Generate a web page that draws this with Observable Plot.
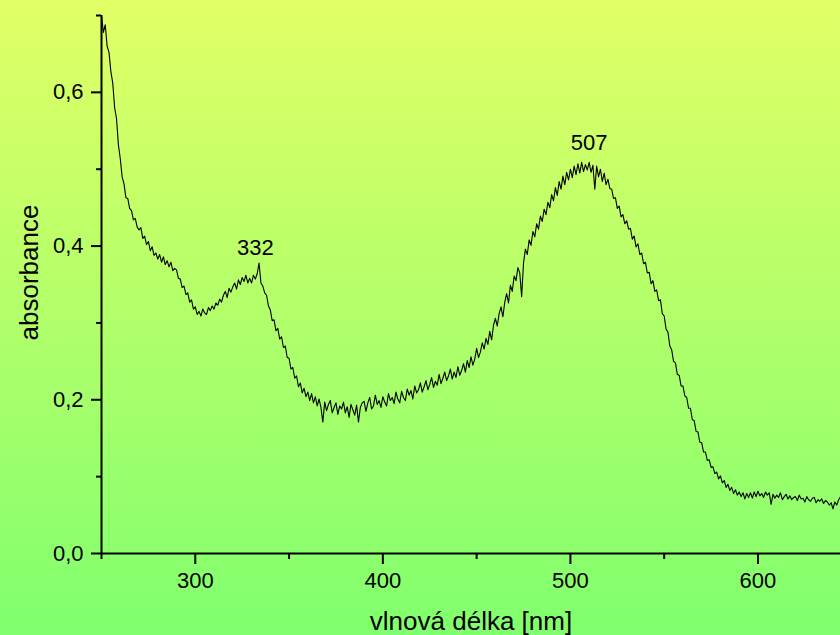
<!DOCTYPE html>
<html>
<head>
<meta charset="utf-8">
<script src="https://cdn.jsdelivr.net/npm/d3@7"></script>
<script src="https://cdn.jsdelivr.net/npm/@observablehq/plot@0.6"></script>
<style>
  html, body { margin: 0; padding: 0; }
  body { width: 840px; height: 635px; overflow: hidden;
         background: linear-gradient(to bottom, #e2ff66, #80ff6e); }
  svg { display: block; }
</style>
</head>
<body>
<div id="chart"></div>
<script>
// wavelength start (nm) and step (nm) of the spectrum samples
const startNm = 250;
const stepNm = 1;
// absorbance values, one row per 10 nm (250–259, 260–269, ...)
const absorbance = [
  .700,.678,.688,.660,.652,.627,.612,.580,.566,.532,
  .514,.490,.481,.463,.462,.449,.446,.434,.436,.425,
  .421,.424,.410,.413,.402,.406,.394,.399,.388,.391,
  .383,.389,.379,.386,.376,.381,.373,.379,.368,.371,
  .369,.358,.357,.346,.348,.337,.339,.327,.330,.318,
  .321,.311,.315,.309,.318,.313,.311,.320,.316,.322,
  .318,.326,.323,.331,.327,.336,.341,.333,.345,.340,
  .347,.352,.344,.356,.350,.359,.354,.362,.352,.358,
  .352,.362,.357,.364,.378,.352,.348,.339,.336,.322,
  .317,.303,.304,.290,.293,.279,.282,.268,.270,.255,
  .254,.240,.242,.228,.231,.217,.222,.209,.215,.204,
  .210,.199,.208,.196,.204,.192,.201,.190,.171,.197,
  .186,.194,.199,.183,.190,.196,.181,.192,.188,.197,
  .183,.191,.177,.194,.187,.180,.193,.171,.190,.196,
  .198,.185,.196,.203,.188,.192,.206,.194,.199,.190,
  .204,.197,.192,.208,.199,.203,.195,.210,.201,.196,
  .211,.203,.199,.214,.206,.212,.201,.218,.209,.213,
  .222,.210,.217,.225,.213,.220,.229,.216,.224,.219,
  .233,.221,.228,.236,.225,.231,.240,.227,.236,.229,
  .243,.232,.238,.247,.236,.251,.242,.256,.245,.253,
  .267,.255,.262,.274,.266,.280,.272,.289,.278,.297,
  .306,.296,.312,.321,.308,.327,.338,.326,.349,.341,
  .361,.355,.372,.365,.334,.378,.396,.389,.408,.401,
  .419,.412,.429,.422,.439,.432,.448,.441,.457,.450,
  .467,.459,.476,.466,.484,.474,.491,.480,.496,.486,
  .500,.489,.504,.493,.507,.495,.509,.497,.506,.499,
  .509,.496,.505,.474,.504,.490,.500,.484,.495,.480,
  .487,.475,.474,.462,.463,.449,.452,.438,.441,.429,
  .433,.422,.423,.409,.413,.399,.403,.389,.391,.377,
  .379,.365,.366,.351,.355,.341,.343,.329,.330,.312,
  .309,.292,.288,.270,.265,.250,.248,.233,.232,.218,
  .218,.205,.203,.189,.189,.174,.173,.159,.158,.145,
  .144,.132,.132,.121,.122,.112,.113,.104,.106,.097,
  .101,.092,.095,.086,.090,.082,.086,.078,.083,.076,
  .080,.074,.079,.071,.078,.073,.079,.072,.080,.074,
  .081,.075,.078,.073,.080,.076,.079,.064,.077,.072,
  .076,.073,.079,.070,.074,.077,.071,.075,.070,.073,
  .074,.069,.076,.071,.072,.067,.074,.070,.068,.072,
  .073,.066,.070,.068,.071,.065,.069,.067,.063,.066,
  .058,.067,.063,.070,.074
];
// peak annotations
const peakLabels = ["332", "507"];
const peakX = [332, 510];
const peakY = [0.388, 0.525];
// axis ticks
const xMajorTicks = [300, 400, 500, 600];
const xMinorTicks = [250, 350, 450, 550];
const yMajorTicks = [0, 0.2, 0.4, 0.6];
const yMinorTicks = [0.1, 0.3, 0.5, 0.7];
const xDomain = [250, 644];
const yDomain = [0, 0.7];
const xTitle = "vlnová délka [nm]";
const yTitle = "absorbance";

const spectrum = absorbance.map((a, i) => ({nm: startNm + i * stepNm, a}));
const peaks = peakLabels.map((t, i) => ({t, x: peakX[i], y: peakY[i]}));
const comma = d => d.toFixed(1).replace(".", ",");

const font = "'Liberation Sans', Arial, sans-serif";
const chart = Plot.plot({
  width: 840,
  height: 635,
  marginLeft: 101,
  marginRight: 0,
  marginTop: 15,
  marginBottom: 82,
  style: {background: "transparent", fontFamily: font, color: "#000"},
  x: {domain: xDomain},
  y: {domain: yDomain},
  marks: [
    Plot.lineY(spectrum, {x: "nm", y: "a", stroke: "#000", strokeWidth: 1.1, clip: true}),
    Plot.axisX(xMajorTicks, {tickSize: 11, tickPadding: 8, strokeWidth: 2, fontSize: 22, tickFormat: d => String(d), label: null}),
    Plot.axisX(xMinorTicks, {tickSize: 6, strokeWidth: 2, text: null, label: null}),
    Plot.axisY(yMajorTicks, {tickSize: 10, tickPadding: 8, strokeWidth: 2, fontSize: 22, tickFormat: comma, label: null}),
    Plot.axisY(yMinorTicks, {tickSize: 5, strokeWidth: 2, text: null, label: null}),
    Plot.ruleY([0], {stroke: "#000", strokeWidth: 2}),
    Plot.ruleX([250], {stroke: "#000", strokeWidth: 2}),
    Plot.text(peaks, {x: "x", y: "y", text: "t", lineAnchor: "bottom", fontSize: 22, fill: "#000"}),
    Plot.text([xTitle], {frameAnchor: "bottom", textAnchor: "middle", dy: 76, fontSize: 26, fill: "#000"}),
    Plot.text([yTitle], {frameAnchor: "left", textAnchor: "middle", dx: -72, dy: -12, rotate: -90, fontSize: 26, fill: "#000"})
  ]
});
document.getElementById("chart").appendChild(chart);
</script>
</body>
</html>
